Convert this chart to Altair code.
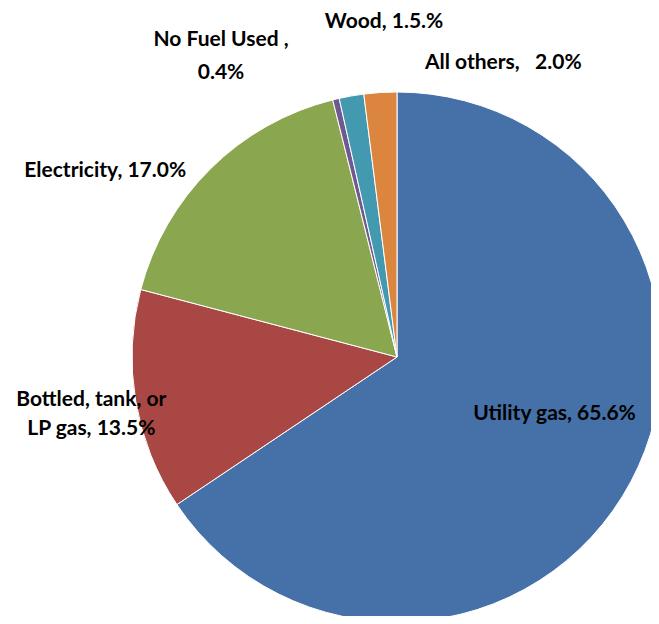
import altair as alt
import pandas as pd

categories = ["Utility gas", "Bottled, tank, or LP gas", "Electricity", "No Fuel Used", "Wood", "All others"]
values = [65.6, 13.5, 17.0, 0.4, 1.5, 2.0]
label_texts = ["Utility gas, 65.6%", "Bottled, tank, or\nLP gas, 13.5%", "Electricity, 17.0%",
               "No Fuel Used ,\n0.4%", "Wood, 1.5.%", "All others,\u00a0\u00a0 2.0%"]
colors = ["#4571A8", "#A94744", "#8AA64F", "#70598F", "#4399B0", "#DB853E"]

df = pd.DataFrame({"category": categories, "value": values, "label": label_texts,
                   "idx": list(range(len(categories)))})

CX, CY, R = 389, 349, 265
# label layout: (radius along slice mid-angle, dx, dy, line height)
layout = [(166, 11, -21, 30), (311, 1, -9, 29), (337, -55, 54, 30),
          (334, -99, 8, 33), (337, 45, -3, 30), (282, 124, -13, 30)]

theta = alt.Theta("value:Q", stack=True)
order = alt.Order("idx:Q", sort="ascending")

pie = alt.Chart(df).mark_arc(radius=R, stroke="white", strokeWidth=1).encode(
    theta=theta,
    order=order,
    color=alt.Color("category:N", scale=alt.Scale(domain=categories, range=colors), legend=None),
    x=alt.value(CX), y=alt.value(CY),
)

layers = [pie]
for i, (r, dx, dy, lh) in enumerate(layout):
    t = alt.Chart(df).mark_text(
        radius=r, dx=dx, dy=dy, font="Lato", fontSize=21, fontWeight="bold",
        color="black", align="center", baseline="middle", lineBreak="\n", lineHeight=lh,
    ).encode(
        theta=theta, order=order,
        text=alt.condition(alt.datum.idx == i, "label:N", alt.value("")),
        x=alt.value(CX), y=alt.value(CY),
    )
    layers.append(t)

chart = alt.layer(*layers).properties(
    width=643, height=608, padding=0, autosize="none"
).configure_view(stroke=None)

chart.save("out.html", embed_options={"renderer": "svg", "actions": False})
